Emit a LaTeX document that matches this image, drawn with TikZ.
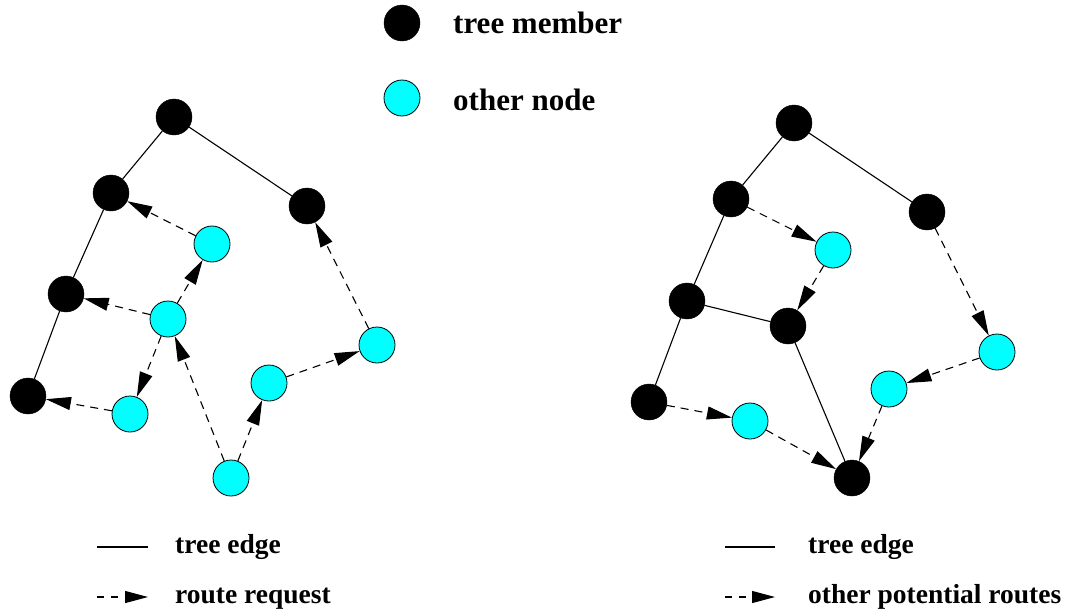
\documentclass[tikz,border=0pt]{standalone}
\usepackage{fontspec}
\setmainfont{Liberation Serif}
\usetikzlibrary{arrows.meta}
\definecolor{cyanfill}{RGB}{0,255,255}
\begin{document}
\begin{tikzpicture}[x=1pt,y=-1pt,
 member/.style={circle,fill=black,draw=black,minimum size=36pt,inner sep=0pt},
 other/.style={circle,fill=cyanfill,draw=black,line width=0.8pt,minimum size=36pt,inner sep=0pt},
 tedge/.style={line width=1.1pt},
 route/.style={line width=1.1pt,dash pattern=on 8pt off 6pt,-{Triangle[length=25pt,width=13pt]}},
 lbl/.style={anchor=base west,font=\bfseries\fontsize{31}{31}\selectfont,inner sep=0pt},
 blbl/.style={anchor=base west,font=\bfseries\fontsize{27.5}{27.5}\selectfont,inner sep=0pt}]
\useasboundingbox (0,0) rectangle (1067,611);
% top legend
\node[member] (lm) at (402,23) {};
\node[lbl] (lmt) at (453,33) {tree member};
\node[other] (lo) at (402,98) {};
\node[lbl] (lot) at (453,110) {other node};
% left graph
\node[member] (A) at (174,117) {};
\node[member] (B) at (111,193) {};
\node[member] (C) at (307,206) {};
\node[other]  (D) at (212,244) {};
\node[member] (E) at (66,294) {};
\node[other]  (F) at (168,319) {};
\node[other]  (G) at (377,345) {};
\node[other]  (H) at (269,383) {};
\node[member] (I) at (28,396) {};
\node[other]  (J) at (130,414) {};
\node[other]  (K) at (231,478) {};
\draw[tedge] (A) -- (B);
\draw[tedge] (A) -- (C);
\draw[tedge] (B) -- (E);
\draw[tedge] (E) -- (I);
\draw[route] (D) -- (B);
\draw[route] (F) -- (D);
\draw[route] (F) -- (E);
\draw[route] (F) -- (J);
\draw[route] (J) -- (I);
\draw[route] (K) -- (F);
\draw[route] (K) -- (H);
\draw[route] (H) -- (G);
\draw[route] (G) -- (C);
% right graph
\node[member] (a) at (794,123) {};
\node[member] (b) at (731,199) {};
\node[member] (c) at (927,212) {};
\node[other]  (d) at (833,250) {};
\node[member] (e) at (687,301) {};
\node[member] (f) at (788,326) {};
\node[other]  (g) at (997,352) {};
\node[other]  (h) at (889,389) {};
\node[member] (i) at (649,402) {};
\node[other]  (j) at (750,421) {};
\node[member] (k) at (852,478) {};
\draw[tedge] (a) -- (b);
\draw[tedge] (a) -- (c);
\draw[tedge] (b) -- (e);
\draw[tedge] (e) -- (i);
\draw[tedge] (e) -- (f);
\draw[tedge] (f) -- (k);
\draw[route] (b) -- (d);
\draw[route] (d) -- (f);
\draw[route] (c) -- (g);
\draw[route] (g) -- (h);
\draw[route] (h) -- (k);
\draw[route] (i) -- (j);
\draw[route] (j) -- (k);
% bottom legends
\coordinate (l1a) at (97,547);
\coordinate (l1b) at (148,547);
\draw[tedge] (l1a) -- (l1b);
\node[blbl] (l1t) at (175,553) {tree edge};
\coordinate (l2a) at (97,597);
\coordinate (l2b) at (148,597);
\draw[route,dash pattern=on 7pt off 7pt,-{Triangle[length=23pt,width=12pt]}] (l2a) -- (l2b);
\node[blbl] (l2t) at (175,603) {route request};
\coordinate (r1a) at (725,547);
\coordinate (r1b) at (775,547);
\draw[tedge] (r1a) -- (r1b);
\node[blbl] (r1t) at (808,553) {tree edge};
\coordinate (r2a) at (725,597);
\coordinate (r2b) at (775,597);
\draw[route,dash pattern=on 7pt off 7pt,-{Triangle[length=23pt,width=12pt]}] (r2a) -- (r2b);
\node[blbl] (r2t) at (808,603) {other potential routes};
\end{tikzpicture}
\end{document}
